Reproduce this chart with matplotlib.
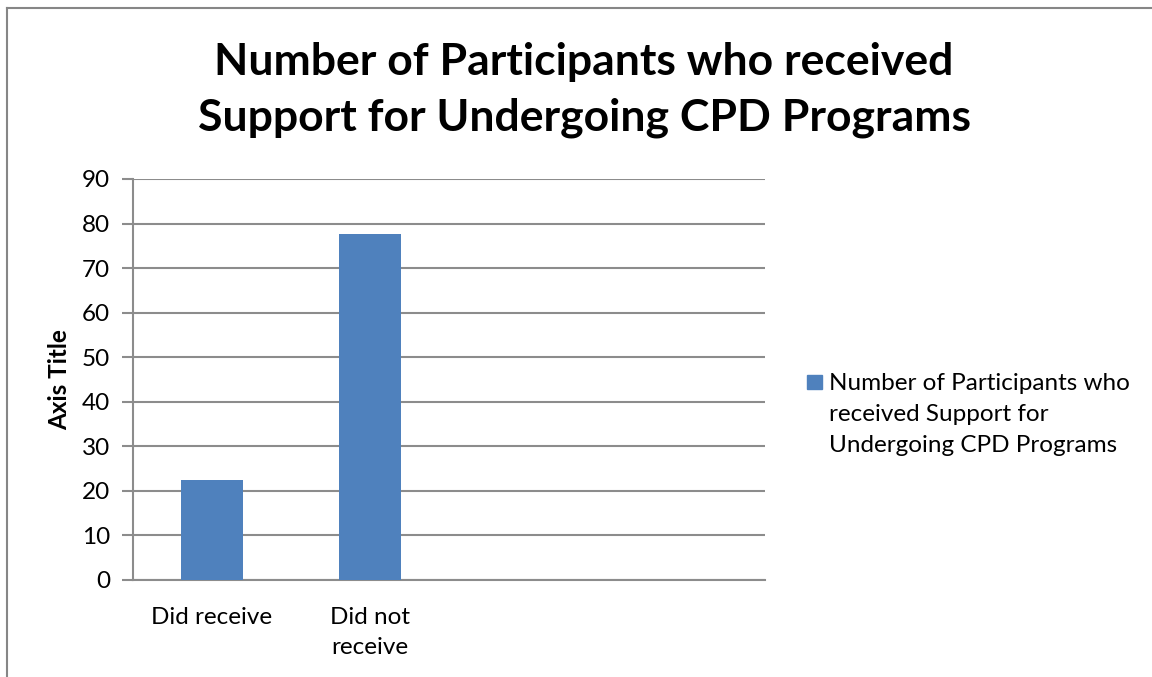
import matplotlib
matplotlib.use("Agg")
import matplotlib.pyplot as plt
from matplotlib.patches import Rectangle
from matplotlib.lines import Line2D

# ---- data ----
categories = ["Did receive", "Did not\nreceive", "", ""]
values = [22.4, 77.6]
yticks = [0, 10, 20, 30, 40, 50, 60, 70, 80, 90]
title = "Number of Participants who received\nSupport for Undergoing CPD Programs"
series_label = "Number of Participants who\nreceived Support for\nUndergoing CPD Programs"
y_label = "Axis Title"

BAR = "#4F81BD"
GRID = "#8C8C8C"
FONT = "Lato"
FS = 17.5

W, H = 1152, 677
fig = plt.figure(figsize=(W / 100, H / 100), dpi=100)
fig.patch.set_facecolor("white")

# chart-area border (top and left visible, cropped on right/bottom)
fig.add_artist(Line2D([7 / W, 1.0], [1 - 8 / H, 1 - 8 / H], color="#868686", lw=1.5))
fig.add_artist(Line2D([7 / W, 7 / W], [0.0, 1 - 8 / H], color="#868686", lw=1.5))

ax = fig.add_axes([133 / W, (H - 580) / H, (765 - 133) / W, (580 - 179) / H])
x = list(range(len(categories)))
ax.bar(x[:len(values)], values, width=0.396, color=BAR, zorder=3)

ax.set_xlim(-0.5, len(categories) - 0.5)
ax.set_ylim(0, 90)
ax.set_yticks(yticks)
ax.set_yticklabels([str(t) for t in yticks], fontsize=FS, family=FONT)
ax.set_xticks(x)
ax.set_xticklabels(categories, fontsize=FS, family=FONT, linespacing=1.55)
ax.tick_params(axis="x", length=0, pad=19.5)
ax.tick_params(axis="y", length=8, width=1.5, color=GRID, pad=8.5)
ax.yaxis.grid(True, color=GRID, lw=1.5, zorder=0)
ax.set_axisbelow(True)
for s in ["top", "right"]:
    ax.spines[s].set_visible(False)
for s in ["left", "bottom"]:
    ax.spines[s].set_color(GRID)
    ax.spines[s].set_linewidth(1.5)

fig.text(60 / W, 1 - 380 / H, y_label, rotation=90, ha="center", va="center",
         fontsize=FS, fontweight="bold", family=FONT)

fig.text(584 / W, 1 - 90 / H, title, ha="center", va="center",
         fontsize=32, fontweight="bold", family=FONT, linespacing=1.45)

# legend
fig.add_artist(Rectangle((807 / W, 1 - 389 / H), 15 / W, 14 / H,
                         transform=fig.transFigure, color=BAR))
fig.text(829 / W, 1 - 373 / H, series_label, ha="left", va="top",
         fontsize=FS, family=FONT, linespacing=1.6)

fig.savefig("out.png", dpi=100)
